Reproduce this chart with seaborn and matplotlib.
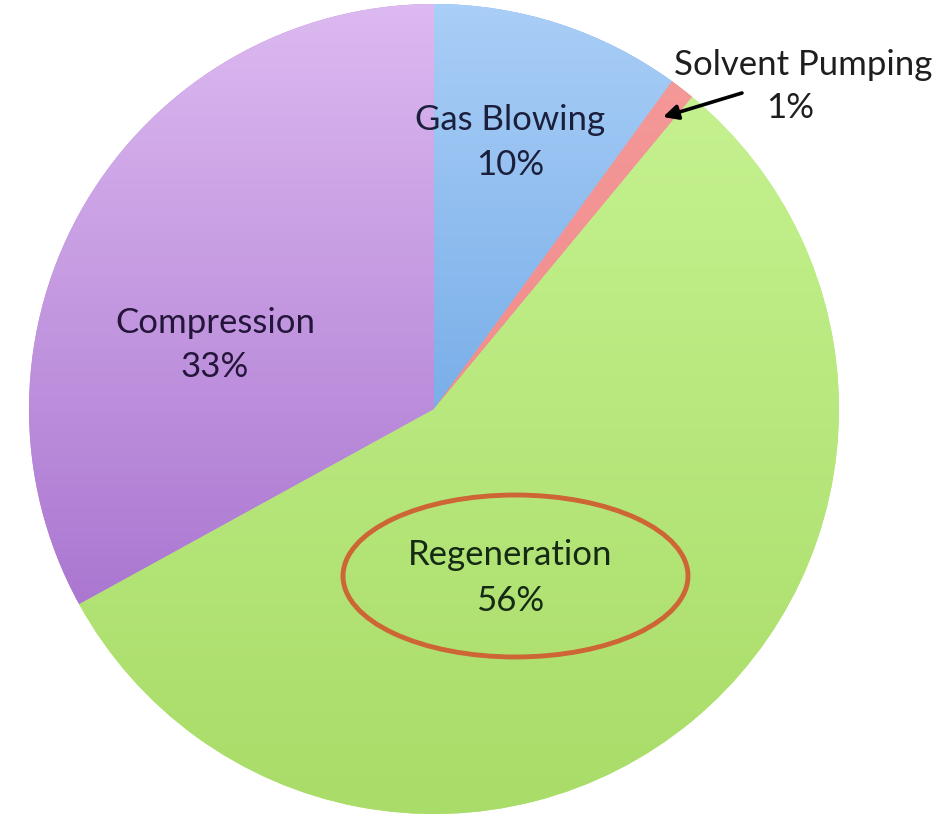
import numpy as np
import matplotlib
matplotlib.use('Agg')
import matplotlib.pyplot as plt
import seaborn as sns
from matplotlib.colors import LinearSegmentedColormap
from matplotlib.patches import Ellipse

# ---- data ----
categories = ['Gas Blowing', 'Solvent Pumping', 'Regeneration', 'Compression']
shares = [10, 1, 56, 33]
pct_labels = ['10%', '1%', '56%', '33%']
highlighted = 'Regeneration'

# ---- style ----
sns.set_theme(style='white')
plt.rcParams['font.family'] = ['Lato', 'DejaVu Sans']

W, H = 945, 825
fig = plt.figure(figsize=(W / 100, H / 100), dpi=100)
ax = fig.add_axes([0, 0, 1, 1])

cx, cy, R = 434, H - 409, 405
base_colors = ['#78aeea', '#f08a8a', '#b6e87c', '#bc8ad8']
gradients = {
    'Gas Blowing': ('#4a8fda', '#a9cef7'),
    'Solvent Pumping': ('#ee8080', '#f59a9a'),
    'Regeneration': ('#a9dc68', '#c8f494'),
    'Compression': ('#9a60c6', '#dcb9f0'),
}

wedges, _ = ax.pie(shares, startangle=90, counterclock=False, center=(cx, cy),
                   radius=R, colors=base_colors, wedgeprops=dict(linewidth=0))

grad = np.linspace(0, 1, 256).reshape(-1, 1)
for w, cat in zip(wedges, categories):
    bot, top = gradients[cat]
    cmap = LinearSegmentedColormap.from_list('g_' + cat, [bot, top])
    im = ax.imshow(grad, cmap=cmap, extent=(cx - R, cx + R, cy - R, cy + R),
                   origin='lower', aspect='auto', zorder=2, interpolation='bilinear')
    im.set_clip_path(w)

ax.set_xlim(0, W)
ax.set_ylim(0, H)
ax.set_aspect('equal')
ax.axis('off')

# ---- labels ----
label_pos = {
    'Gas Blowing': ((510, 120), (510, 165)),
    'Solvent Pumping': ((803, 65), (790, 108)),
    'Regeneration': ((510, 555), (510, 601)),
    'Compression': ((215, 323), (215, 367)),
}
text_colors = {
    'Gas Blowing': '#1c1f3c',
    'Solvent Pumping': '#1e1e1e',
    'Regeneration': '#142a14',
    'Compression': '#24163a',
}
fs = 25
for cat, pct in zip(categories, pct_labels):
    (x1, y1), (x2, y2) = label_pos[cat]
    ax.text(x1, H - y1, cat, ha='center', va='center', fontsize=fs,
            color=text_colors[cat], zorder=5)
    ax.text(x2, H - y2, pct, ha='center', va='center', fontsize=fs,
            color=text_colors[cat], zorder=5)

# arrow to the thin slice
ax.annotate('', xy=(663, H - 117), xytext=(742, H - 93),
            arrowprops=dict(arrowstyle='-|>', color='black', lw=2.6,
                            mutation_scale=22, shrinkA=0, shrinkB=0), zorder=6)

# highlight ellipse
ax.add_patch(Ellipse((515.5, H - 576), 345, 162, fill=False,
                     edgecolor='#cd6535', linewidth=3.5, zorder=6))

fig.savefig('out.png', dpi=100, facecolor='white')
